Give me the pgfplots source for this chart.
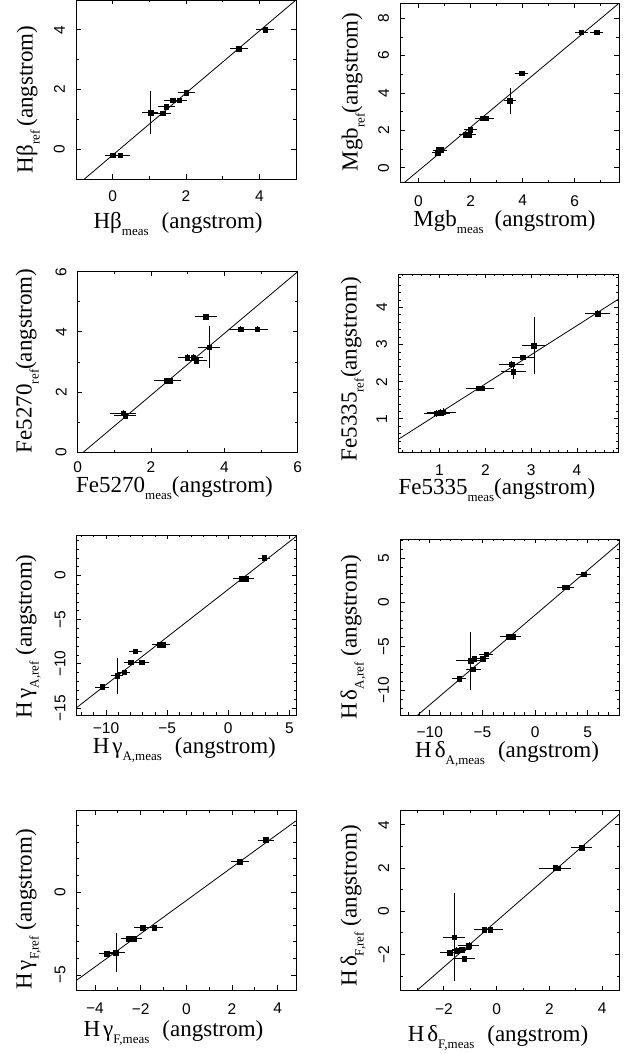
\documentclass[border=0pt]{standalone}
\usepackage{fontspec}
\setmainfont{Liberation Serif}
\newfontfamily\ticksf{Liberation Sans}
\usepackage{pgfplots}
\pgfplotsset{compat=1.18}
\usepackage{pgfplotstable}

\newcommand\labfont{\fontsize{23}{26}\selectfont}
\newcommand\tickfont{\ticksf\fontsize{15.5}{17}\selectfont}
\newcommand\sub[1]{\raisebox{-7pt}{\fontsize{13}{14}\selectfont #1}}

\pgfplotstableread{
x y ex ey
0.00 -0.20 0.20 0.05
0.21 -0.20 0.25 0.05
1.03 1.23 0.22 0.72
1.37 1.20 0.23 0.05
1.46 1.42 0.23 0.08
1.64 1.64 0.23 0.05
1.81 1.64 0.23 0.05
2.01 1.90 0.24 0.08
3.44 3.37 0.25 0.08
4.16 4.00 0.24 0.05
}\tabHb

\pgfplotstableread{
x y ex ey
0.73 0.80 0.20 0.08
0.78 0.95 0.22 0.08
0.86 0.95 0.22 0.08
1.82 1.76 0.28 0.08
1.92 1.76 0.28 0.08
1.99 2.03 0.25 0.10
2.44 2.66 0.28 0.08
2.60 2.66 0.28 0.08
3.51 3.58 0.22 0.70
3.96 5.06 0.25 0.08
6.25 7.25 0.25 0.08
6.85 7.25 0.25 0.08
}\tabMgb

\pgfplotstableread{
x y ex ey
1.24 1.30 0.35 0.12
1.30 1.22 0.30 0.12
2.43 2.38 0.35 0.05
2.52 2.38 0.30 0.05
2.99 3.14 0.25 0.12
3.15 3.14 0.28 0.12
3.23 3.05 0.30 0.12
3.49 4.51 0.30 0.05
3.59 3.49 0.30 0.70
4.44 4.09 0.30 0.10
4.90 4.09 0.30 0.10
}\tabFeA

\pgfplotstableread{
x y ex ey
0.94 1.15 0.28 0.10
1.01 1.17 0.28 0.10
1.08 1.18 0.28 0.10
1.85 1.83 0.27 0.03
1.92 1.83 0.27 0.03
2.57 2.47 0.27 0.10
2.61 2.27 0.27 0.20
2.82 2.66 0.25 0.05
3.06 2.97 0.27 0.76
4.45 3.83 0.27 0.10
}\tabFeB

\pgfplotstableread{
x y ex ey
-10.32 -12.62 0.55 0.2
-9.10 -11.34 0.50 2.04
-8.50 -10.96 0.50 0.2
-7.96 -9.83 0.60 0.2
-7.60 -8.58 0.55 0.2
-7.06 -9.83 0.60 0.3
-5.62 -7.82 0.60 0.2
-5.35 -7.82 0.60 0.2
1.09 -0.34 0.70 0.2
1.42 -0.34 0.70 0.2
2.93 2.00 0.50 0.2
}\tabHgA

\pgfplotstableread{
x y ex ey
-7.22 -8.66 0.70 0.2
-6.11 -6.65 1.40 3.28
-5.86 -7.60 0.70 0.2
-5.77 -6.38 0.60 0.2
-5.00 -6.38 0.60 0.2
-4.65 -5.89 0.70 0.2
-2.53 -3.91 0.80 0.2
-2.15 -3.91 0.80 0.2
2.80 1.71 0.70 0.2
3.00 1.71 0.70 0.2
4.59 3.19 0.70 0.2
}\tabHdA

\pgfplotstableread{
x y ex ey
-3.49 -3.70 0.35 0.05
-3.08 -3.64 0.40 1.20
-2.53 -2.80 0.35 0.10
-2.29 -2.80 0.35 0.10
-1.92 -2.14 0.35 0.05
-1.41 -2.14 0.40 0.05
2.34 1.84 0.40 0.05
3.47 3.14 0.35 0.10
}\tabHgF

\pgfplotstableread{
x y ex ey
-1.61 -1.20 0.42 2.03
-1.77 -1.93 0.38 0.10
-1.52 -1.82 0.35 0.15
-1.33 -1.78 0.35 0.10
-1.23 -2.21 0.42 0.15
-1.05 -1.59 0.40 0.15
-0.47 -0.85 0.40 0.05
-0.25 -0.85 0.50 0.05
2.22 2.00 0.60 0.05
2.32 1.98 0.50 0.05
3.23 2.94 0.40 0.10
}\tabHdF

\pgfplotsset{
  panel/.style={
    scale only axis,
    anchor=south west,
    axis line style={line width=0.9pt},
    tick align=inside,
    major tick length=4.5pt,
    minor tick length=2.5pt,
    tick style={line width=0.8pt, black},
    tick label style={font=\tickfont},
    xticklabel style={anchor=north, inner ysep=#1, inner xsep=0pt},
    yticklabel style={rotate=90, anchor=south, inner ysep=11pt, inner xsep=0pt},
    label style={font=\labfont},
    xlabel style={anchor=base west},
    ylabel style={anchor=base west},
  },
  panel/.default=11.7pt,
  pts/.style={only marks, mark=square*, mark size=2.3pt, black,
    error bars/.cd, x dir=both, x explicit, y dir=both, y explicit,
    error mark=none, error bar style={line width=0.8pt, black}},
  fit/.style={black, line width=0.8pt, no marks},
}

\begin{document}
\begin{tikzpicture}
\useasboundingbox (0pt,0pt) rectangle (635pt,1054pt);

% Panel 1: Hbeta
\begin{axis}[panel=11.7pt, at={(76pt,875pt)}, width=220pt, height=179pt,
  xmin=-1, xmax=5, ymin=-1, ymax=5,
  xtick={0,2,4}, xticklabels={0,2,4}, minor xtick={1,3},
  ytick={0,2,4}, yticklabels={0,2,4}, minor ytick={1,3},
  xlabel={Hβ\sub{meas}\hspace{13pt}(angstrom)},
  ylabel={Hβ\sub{ref}\hspace{4pt}(angstrom)},
  xlabel style={at={(axis description cs:0.064,-0.276)}},
  ylabel style={at={(axis description cs:-0.197,0.013)}}]
\addplot[fit] coordinates {(-0.77,-1) (5,5)};
\addplot[pts] table[x=x,y=y,x error=ex,y error=ey] {\tabHb};
\end{axis}

% Panel 2: Mgb
\begin{axis}[panel=12.3pt, at={(400.3pt,871.3pt)}, width=218.7pt, height=179.4pt,
  xmin=-0.7, xmax=7.7, ymin=-0.8, ymax=8.8,
  xtick={0,2,4,6}, xticklabels={0,2,4,6}, minor xtick={1,3,5,7},
  ytick={0,2,4,6,8}, yticklabels={0,2,4,6,8}, minor ytick={1,3,5,7},
  xlabel={Mgb\sub{meas}\hspace{11pt}(angstrom)},
  ylabel={Mgb\sub{ref}(angstrom)},
  xlabel style={at={(axis description cs:0.044,-0.245)}},
  ylabel style={at={(axis description cs:-0.195,0.043)}}]
\addplot[fit] coordinates {(-0.55,-0.8) (7.7,8.8)};
\addplot[pts] table[x=x,y=y,x error=ex,y error=ey] {\tabMgb};
\end{axis}

% Panel 3: Fe5270
\begin{axis}[panel=9.4pt, at={(77.7pt,601.7pt)}, width=220pt, height=180.6pt,
  xmin=0, xmax=6, ymin=0, ymax=6,
  xtick={0,2,4,6}, xticklabels={0,2,4,6}, minor xtick={1,3,5},
  ytick={0,2,4,6}, yticklabels={0,2,4,6}, minor ytick={1,3,5},
  xlabel={Fe5270\sub{meas}(angstrom)},
  ylabel={Fe5270\sub{ref}(angstrom)},
  xlabel style={at={(axis description cs:-0.023,-0.225)}},
  ylabel style={at={(axis description cs:-0.209,-0.024)}}]
\addplot[fit] coordinates {(0.15,0) (6,6)};
\addplot[pts] table[x=x,y=y,x error=ex,y error=ey] {\tabFeA};
\end{axis}

% Panel 4: Fe5335
\begin{axis}[panel=12.2pt, at={(398.3pt,601.7pt)}, width=220pt, height=178.3pt,
  xmin=0.1, xmax=4.9, ymin=0.1, ymax=4.9,
  xtick={1,2,3,4}, xticklabels={1,2,3,4},
  minor xtick={0.2,0.4,0.6,0.8,1.2,1.4,1.6,1.8,2.2,2.4,2.6,2.8,3.2,3.4,3.6,3.8,4.2,4.4,4.6,4.8},
  ytick={1,2,3,4}, yticklabels={1,2,3,4},
  minor ytick={0.2,0.4,0.6,0.8,1.2,1.4,1.6,1.8,2.2,2.4,2.6,2.8,3.2,3.4,3.6,3.8,4.2,4.4,4.6,4.8},
  xlabel={Fe5335\sub{meas}(angstrom)},
  ylabel={Fe5335\sub{ref}(angstrom)},
  xlabel style={at={(axis description cs:-0.015,-0.238)}},
  ylabel style={at={(axis description cs:-0.189,-0.071)}}]
\addplot[fit] coordinates {(0.1,0.449) (4.9,4.22)};
\addplot[pts] table[x=x,y=y,x error=ex,y error=ey] {\tabFeB};
\end{axis}

% Panel 5: HgammaA
\begin{axis}[panel=7.6pt, at={(76.7pt,339pt)}, width=220pt, height=180pt,
  xmin=-12.4, xmax=5.6, ymin=-15.8, ymax=4.6,
  xtick={-10,-5,0,5}, xticklabels={−10,−5,0,5},
  minor xtick={-12,-11,-9,-8,-7,-6,-4,-3,-2,-1,1,2,3,4},
  ytick={-15,-10,-5,0}, yticklabels={−15,−10,−5,0},
  minor ytick={-14,-13,-12,-11,-9,-8,-7,-6,-4,-3,-2,-1,1,2,3,4},
  xlabel={H\kern3pt γ\sub{A,meas}\hspace{13pt}(angstrom)},
  ylabel={H\kern3pt γ\sub{A,ref}\hspace{6pt}(angstrom)},
  xlabel style={at={(axis description cs:0.057,-0.216)}},
  ylabel style={at={(axis description cs:-0.205,-0.037)}}]
\addplot[fit] coordinates {(-12.4,-14.96) (5.6,4.49)};
\addplot[pts] table[x=x,y=y,x error=ex,y error=ey] {\tabHgA};
\end{axis}

% Panel 6: HdeltaA
\begin{axis}[panel=11.7pt, at={(400.3pt,339pt)}, width=219pt, height=176pt,
  xmin=-12.8, xmax=8, ymin=-12.8, ymax=7.2,
  xtick={-10,-5,0,5}, xticklabels={−10,−5,0,5},
  minor xtick={-12,-11,-9,-8,-7,-6,-4,-3,-2,-1,1,2,3,4,6,7},
  ytick={-10,-5,0,5}, yticklabels={−10,−5,0,5},
  minor ytick={-12,-11,-9,-8,-7,-6,-4,-3,-2,-1,1,2,3,4,6,7},
  xlabel={H\kern3pt δ\sub{A,meas}\hspace{13pt}(angstrom)},
  ylabel={H\kern3pt δ\sub{A,ref}\hspace{6pt}(angstrom)},
  xlabel style={at={(axis description cs:0.052,-0.244)}},
  ylabel style={at={(axis description cs:-0.199,-0.047)}}]
\addplot[fit] coordinates {(-11.14,-12.8) (8,6.72)};
\addplot[pts] table[x=x,y=y,x error=ex,y error=ey] {\tabHdA};
\end{axis}

% Panel 7: HgammaF
\begin{axis}[panel=13pt, at={(76.7pt,64pt)}, width=219.3pt, height=179.3pt,
  xmin=-4.8, xmax=4.8, ymin=-5.9, ymax=4.9,
  xtick={-4,-2,0,2,4}, xticklabels={−4,−2,0,2,4}, minor xtick={-3,-1,1,3},
  ytick={-5,0}, yticklabels={−5,0}, minor ytick={-4,-3,-2,-1,1,2,3,4},
  xlabel={H\kern3pt γ\sub{F,meas}\hspace{13pt}(angstrom)},
  ylabel={H\kern3pt γ\sub{F,ref}\hspace{6pt}(angstrom)},
  xlabel style={at={(axis description cs:0.015,-0.257)}},
  ylabel style={at={(axis description cs:-0.205,-0.018)}}]
\addplot[fit] coordinates {(-4.8,-5.31) (4.8,4.29)};
\addplot[pts] table[x=x,y=y,x error=ex,y error=ey] {\tabHgF};
\end{axis}

% Panel 8: HdeltaF
\begin{axis}[panel=13pt, at={(400.3pt,64pt)}, width=219pt, height=179.3pt,
  xmin=-3.65, xmax=4.65, ymin=-3.65, ymax=4.65,
  xtick={-2,0,2,4}, xticklabels={−2,0,2,4}, minor xtick={-3,-1,1,3},
  ytick={-2,0,2,4}, yticklabels={−2,0,2,4}, minor ytick={-3,-1,1,3},
  xlabel={H\kern3pt δ\sub{F,meas}\hspace{13pt}(angstrom)},
  ylabel={H\kern3pt δ\sub{F,ref}\hspace{6pt}(angstrom)},
  xlabel style={at={(axis description cs:0.018,-0.288)}},
  ylabel style={at={(axis description cs:-0.199,0.0)}}]
\addplot[fit] coordinates {(-3.0,-3.65) (4.65,4.49)};
\addplot[pts] table[x=x,y=y,x error=ex,y error=ey] {\tabHdF};
\end{axis}

\end{tikzpicture}
\end{document}
